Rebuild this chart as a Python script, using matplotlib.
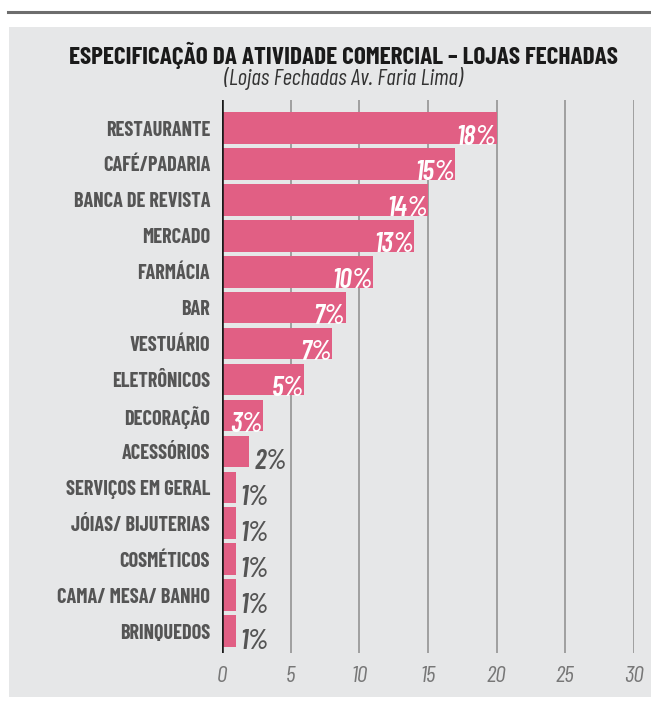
import matplotlib
matplotlib.use("Agg")
import matplotlib.pyplot as plt
from matplotlib.patches import Rectangle
from matplotlib.lines import Line2D

# lojas fechadas por atividade (Av. Faria Lima)
categorias = [
    "RESTAURANTE", "CAFÉ/PADARIA", "BANCA DE REVISTA", "MERCADO", "FARMÁCIA",
    "BAR", "VESTUÁRIO", "ELETRÔNICOS", "DECORAÇÃO", "ACESSÓRIOS",
    "SERVIÇOS EM GERAL", "JÓIAS/ BIJUTERIAS", "COSMÉTICOS", "CAMA/ MESA/ BANHO",
    "BRINQUEDOS",
]
quantidade = [20, 17, 15, 14, 11, 9, 8, 6, 3, 2, 1, 1, 1, 1, 1]
percentual = ["18%", "15%", "14%", "13%", "10%", "7%", "7%", "5%", "3%", "2%",
              "1%", "1%", "1%", "1%", "1%"]
ticks = [0, 5, 10, 15, 20, 25, 30]

FONT = ["Barlow Condensed", "DejaVu Sans"]
plt.rcParams["font.family"] = FONT

ROSA = "#e15f84"
FUNDO = "#e6e7e8"
CINZA = "#555555"

fig = plt.figure(figsize=(6.51, 7.06), dpi=100)
W, H = 651, 706

# painel cinza e filete superior
fig.patches.append(Rectangle((9 / W, 1 - 697 / H), (W - 9) / W, (697 - 27) / H,
                             transform=fig.transFigure, facecolor=FUNDO,
                             edgecolor="none", zorder=-5))
fig.lines.append(Line2D([8 / W, 1], [1 - 11.5 / H] * 2, transform=fig.transFigure,
                        color="#6d6d6d", linewidth=2.2, zorder=-5))

fig.text(343 / W, 1 - 55 / H, "ESPECIFICAÇÃO DA ATIVIDADE COMERCIAL – LOJAS FECHADAS",
         ha="center", va="center", fontsize=18.2, fontweight="bold", color="#1a1a1a")
fig.text(343 / W, 1 - 79 / H, "(Lojas Fechadas Av. Faria Lima)",
         ha="center", va="center", fontsize=16.5, style="italic", color="#333333")

ax = fig.add_axes([222 / W, 53 / H, (634 - 222) / W, (653 - 100) / H])
ax.set_facecolor("none")

y = list(range(len(categorias)))
ax.barh(y, quantidade, height=0.88, color=ROSA, zorder=2)
ax.set_xlim(0, 30)
ax.set_ylim(len(categorias) - 1 + 0.61, -0.78)

for v in ticks[1:]:
    ax.axvline(v, color="#8c8c8c", linewidth=1.1, zorder=1)
ax.axvline(0, color="#1a1a1a", linewidth=2.6, zorder=3)

for i, (q, p) in enumerate(zip(quantidade, percentual)):
    if q >= 3:
        ax.text(q - 0.05, i + 0.46, p, ha="right", va="baseline", color="white",
                fontsize=20, style="italic", fontweight="semibold", zorder=4)
    else:
        ax.text(q + 0.35, i + 0.5, p, ha="left", va="baseline", color=CINZA,
                fontsize=20, style="italic", fontweight="semibold", zorder=4)

ax.set_yticks(y)
ax.set_yticklabels(categorias, fontsize=14.6, fontweight="bold", color=CINZA)
ax.set_xticks(ticks)
ax.set_xticklabels([str(t) for t in ticks], fontsize=17, style="italic", color="#777777")
ax.tick_params(length=0)
ax.tick_params(axis="y", pad=8.5)
ax.tick_params(axis="x", pad=9)
for s in ax.spines.values():
    s.set_visible(False)

fig.savefig("out.png", dpi=100)
